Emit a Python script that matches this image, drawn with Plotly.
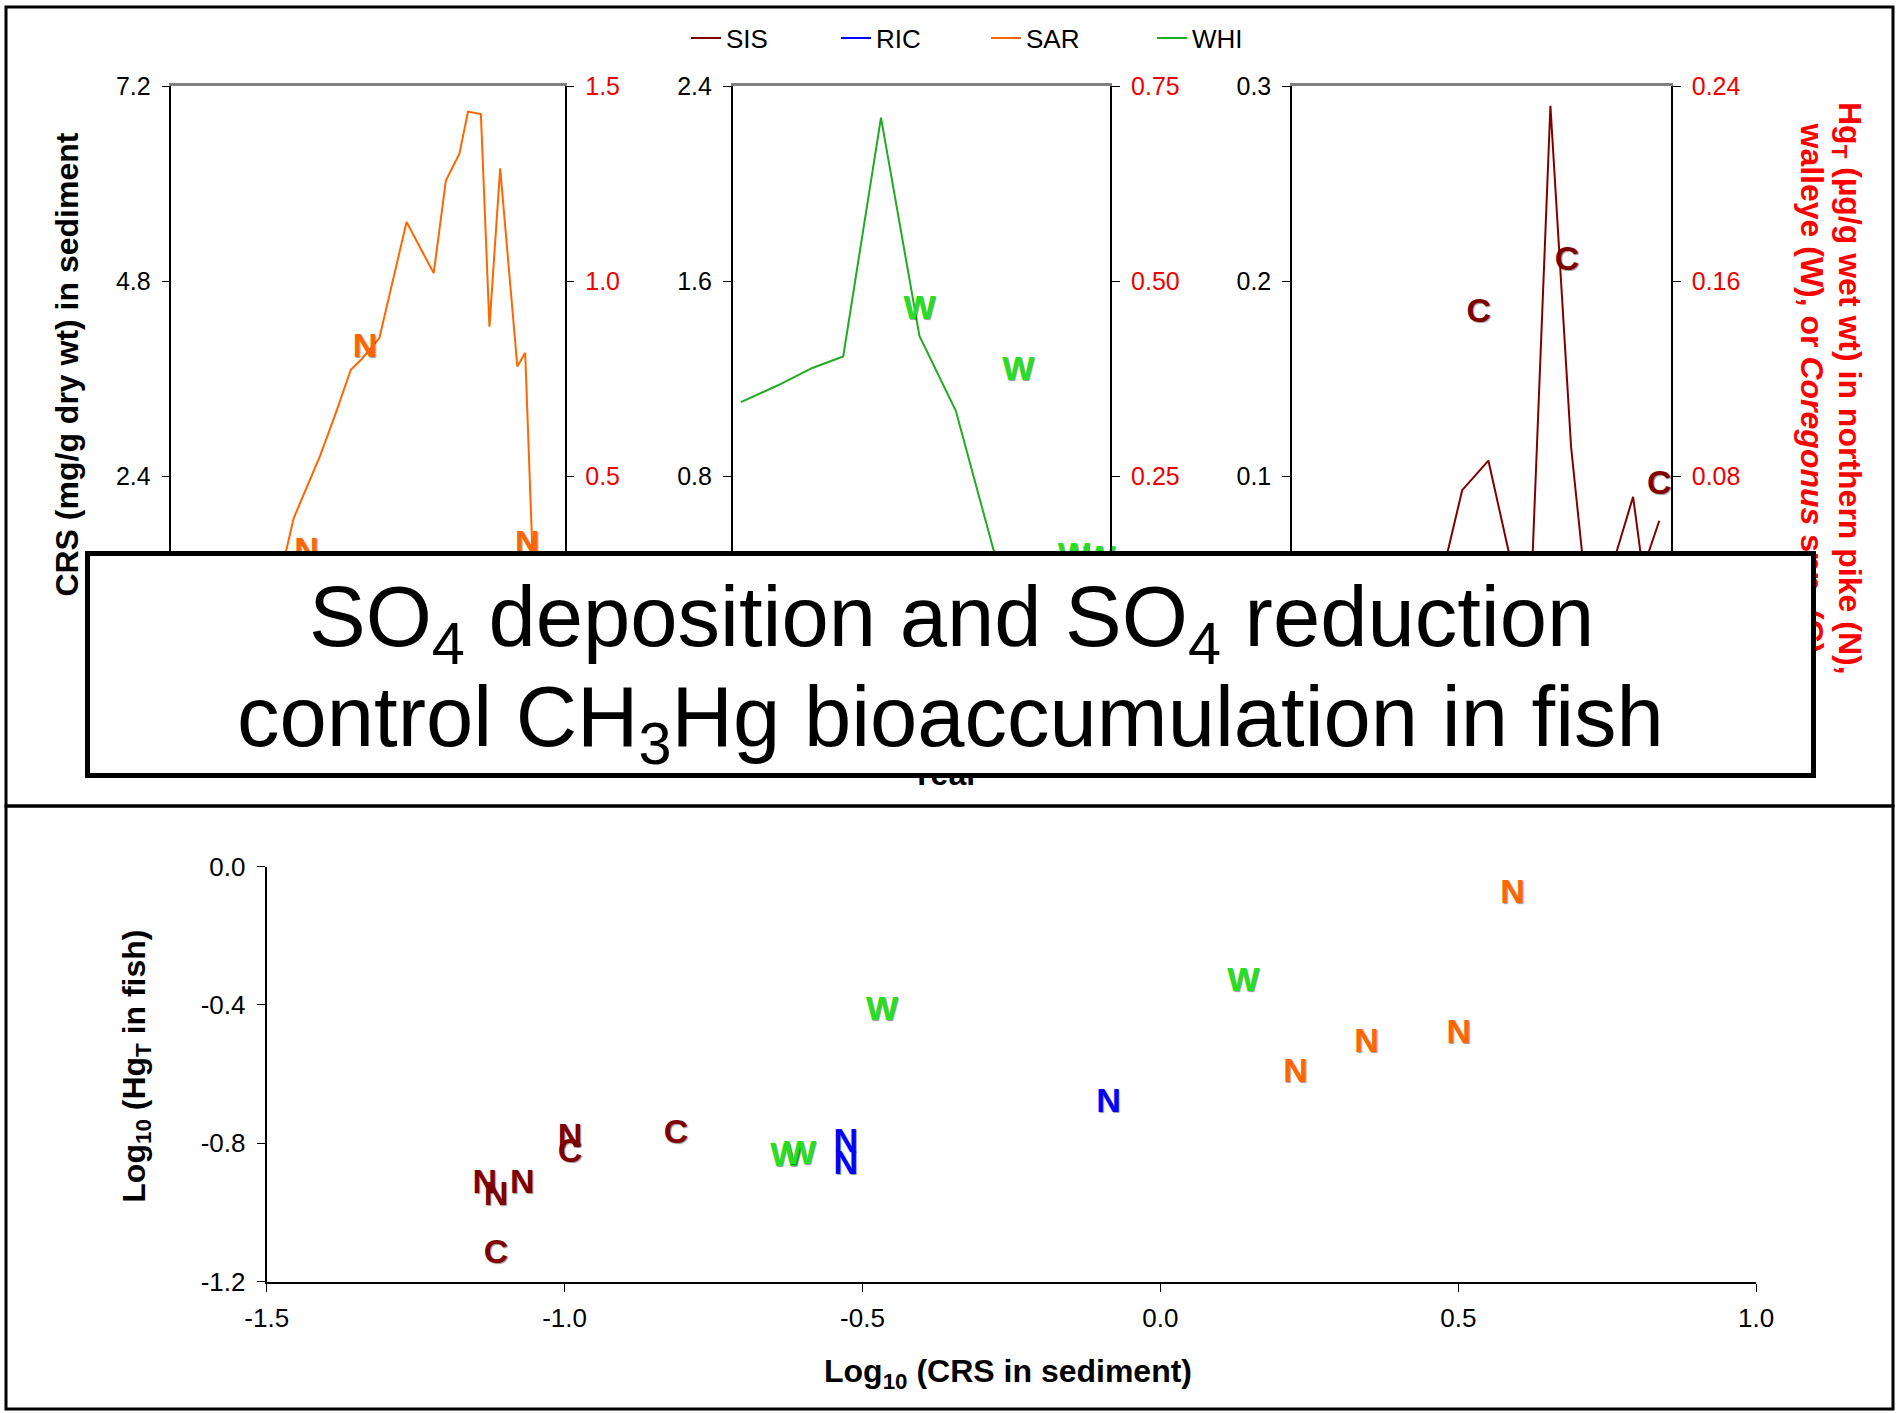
import plotly.graph_objects as go

W, H = 1900, 1413
FONT = "Liberation Sans, Arial, sans-serif"

# ---------------- data: sediment CRS profiles (mg/g dry wt) vs year ----------------
sar_years = [1950.5, 1954.0, 1961.0, 1964.8, 1967.1, 1970.8, 1973.1, 1975.1, 1976.6, 1979.1,
             1980.8, 1982.9, 1986.7, 1988.4, 1990.3, 1991.5, 1993.3, 1994.5, 1996.0, 1998.4,
             1999.5, 2000.5, 2001.6, 2003.7]
sar_crs = [0.25, 0.30, 0.50, 1.00, 1.88, 2.65, 3.20, 3.71, 3.84, 4.10,
           4.74, 5.53, 4.90, 6.04, 6.37, 6.89, 6.86, 4.24, 6.19, 3.75,
           3.92, 1.49, 0.90, 0.70]

whi_years = [1951.2, 1956.6, 1961.6, 1966.1, 1971.6, 1977.2, 1982.5, 1988.0, 1994.0, 2001.0]
whi_crs = [1.104, 1.173, 1.244, 1.291, 2.272, 1.376, 1.068, 0.496, 0.35, 0.30]

sis_years = [1951.2, 1962.8, 1971.5, 1974.7, 1978.5, 1983.1, 1984.7, 1987.5, 1990.5, 1992.7,
             1995.3, 1999.5, 2000.9, 2003.3]
sis_crs = [0.030, 0.040, 0.045, 0.0928, 0.108, 0.035, 0.040, 0.290, 0.115, 0.040,
           0.040, 0.0894, 0.052, 0.0771]

# ---------------- fish HgT (ug/g wet wt) vs year ----------------
sar_fish_years = [1968.9, 1977.1, 1999.8, 1989.0]
sar_fish_hg = [0.305, 0.828, 0.323, 0.252]
whi_fish_years = [1977.2, 1991.6, 1999.7, 2003.4]
whi_fish_hg = [0.462, 0.384, 0.145, 0.142]
sis_fish_years = [1977.1, 1989.9, 2003.3]
sis_fish_hg = [0.1467, 0.168, 0.0763]

# ---------------- bottom panel: log10 CRS vs log10 HgT ----------------
sis_n_logcrs = [-0.991, -1.134, -1.115, -1.071]
sis_n_loghg = [-0.785, -0.920, -0.955, -0.920]
sis_c_logcrs = [-0.813, -0.991, -1.115]
sis_c_loghg = [-0.774, -0.830, -1.121]
ric_n_logcrs = [-0.528, -0.528, -0.087]
ric_n_loghg = [-0.802, -0.864, -0.686]
sar_n_logcrs = [0.591, 0.346, 0.501, 0.227]
sar_n_loghg = [-0.081, -0.511, -0.486, -0.599]
whi_w_logcrs = [0.139, -0.467, -0.628, -0.605]
whi_w_loghg = [-0.336, -0.418, -0.840, -0.836]

# tick values / labels
p1_left_ticks, p1_right_ticks = [2.4, 4.8, 7.2], [0.5, 1.0, 1.5]
p2_left_ticks, p2_right_ticks = [0.8, 1.6, 2.4], [0.25, 0.50, 0.75]
p3_left_ticks, p3_right_ticks = [0.1, 0.2, 0.3], [0.08, 0.16, 0.24]
scatter_xticks = [-1.5, -1.0, -0.5, 0.0, 0.5, 1.0]
scatter_xticktext = ["-1.5", "-1.0", "-0.5", "0.0", "0.5", "1.0"]
scatter_yticks = [-1.2, -0.8, -0.4, 0.0]
scatter_yticktext = ["-1.2", "-0.8", "-0.4", "0.0"]

# colours
C_SIS = "#800000"
C_RIC = "#0000FF"
C_SAR = "#FF6600"
C_WHI = "#22AA22"
C_WHI_TXT = "#22E022"
RED = "#EE0000"


def px(x):
    return x / W


def py(y):
    return 1 - y / H


TOP_DOM = [py(671), py(86.4)]
P1 = [px(171.4), px(564.5)]
P2 = [px(732.7), px(1110.3)]
P3 = [px(1292), px(1671)]
PS_X = [px(266.7), px(1756.2)]
PS_Y = [py(1281.6), py(866.5)]

fig = go.Figure()

# legend line traces (order SIS, RIC, SAR, WHI)
fig.add_trace(go.Scatter(x=sis_years, y=sis_crs, mode="lines", name="SIS",
                         line=dict(color=C_SIS, width=2), xaxis="x3", yaxis="y5"))
fig.add_trace(go.Scatter(x=[None], y=[None], mode="lines", name="RIC",
                         line=dict(color=C_RIC, width=2), xaxis="x3", yaxis="y5"))
fig.add_trace(go.Scatter(x=sar_years, y=sar_crs, mode="lines", name="SAR", legendwidth=121,
                         line=dict(color=C_SAR, width=2), xaxis="x", yaxis="y"))
fig.add_trace(go.Scatter(x=whi_years, y=whi_crs, mode="lines", name="WHI",
                         line=dict(color=C_WHI, width=2), xaxis="x2", yaxis="y3"))


def letters(x, y, letter, color, xa, ya):
    return go.Scatter(x=x, y=y, mode="text", text=[letter] * len(x), showlegend=False,
                      textposition="middle center", cliponaxis=False,
                      textfont=dict(family=FONT, size=34, color=color, weight="bold",
                                    shadow="1px 1px 1px rgba(0,0,0,0.4)"),
                      xaxis=xa, yaxis=ya)


fig.add_trace(letters(sar_fish_years, sar_fish_hg, "N", C_SAR, "x", "y2"))
fig.add_trace(letters(whi_fish_years, whi_fish_hg, "W", C_WHI_TXT, "x2", "y4"))
fig.add_trace(letters(sis_fish_years, sis_fish_hg, "C", C_SIS, "x3", "y6"))

fig.add_trace(letters(sis_n_logcrs, sis_n_loghg, "N", C_SIS, "x4", "y7"))
fig.add_trace(letters(sis_c_logcrs, sis_c_loghg, "C", C_SIS, "x4", "y7"))
fig.add_trace(letters(ric_n_logcrs, ric_n_loghg, "N", C_RIC, "x4", "y7"))
fig.add_trace(letters(sar_n_logcrs, sar_n_loghg, "N", C_SAR, "x4", "y7"))
fig.add_trace(letters(whi_w_logcrs, whi_w_loghg, "W", C_WHI_TXT, "x4", "y7"))

tickfont = dict(family=FONT, size=25, color="black")
redfont = dict(family=FONT, size=25, color=RED)


def xtop(dom, anchor):
    # year axis; its labels sit behind the overlay box in the original, so none are drawn
    return dict(domain=dom, anchor=anchor, range=[1950, 2005], showline=True, mirror=True,
                linecolor="#808080", linewidth=2.5, showgrid=False, zeroline=False,
                ticks="", showticklabels=False, automargin=False)


def yleft(rng, vals, anchor):
    return dict(domain=TOP_DOM, anchor=anchor, range=rng, tickvals=vals, tickformat=".1f",
                showline=True, linecolor="black", linewidth=1.5, ticks="outside", ticklen=8,
                tickcolor="black", showgrid=False, zeroline=False, tickfont=tickfont,
                ticklabelstandoff=6, automargin=False)


def yright(rng, vals, fmt, over, anchor):
    return dict(overlaying=over, side="right", anchor=anchor, range=rng, tickvals=vals,
                tickformat=fmt, showline=True, linecolor="black", linewidth=1.5,
                ticks="outside", ticklen=8, tickcolor="black", showgrid=False,
                zeroline=False, tickfont=redfont, ticklabelstandoff=6, automargin=False)


def note(text, x, y, size, color="black", angle=0, **kw):
    d = dict(text=text, x=px(x), y=py(y), xref="paper", yref="paper", showarrow=False,
             xanchor="center", yanchor="middle", textangle=angle,
             font=dict(family=FONT, size=size, color=color))
    d.update(kw)
    return d


ann = [
    note("<b>CRS (mg/g dry wt) in sediment</b>", 66.6, 365, 32, angle=-90),
    note("<b>Hg<sub>T</sub> (µg/g wet wt) in northern pike (N),</b>", 1848, 388, 32,
         color="#FF0000", angle=90),
    note("<b>walleye (W), or <i>Coregonus</i> spp. (C)</b>", 1811.5, 388, 32,
         color="#FF0000", angle=90),
    note("<b>Year</b>", 945, 774, 32),
    # overlay box
    note(" ", 950.5, 664.5, 20, width=1721, height=217, bgcolor="white",
         bordercolor="black", borderwidth=5, borderpad=0),
    note("SO<sub>4</sub> deposition and SO<sub>4</sub> reduction", 951, 623, 85),
    note("control CH<sub>3</sub>Hg bioaccumulation in fish", 950, 723, 85),
    # bottom titles
    note("<b>Log<sub>10</sub> (CRS in sediment)</b>", 1008, 1373, 32),
    note("<b>Log<sub>10</sub> (Hg<sub>T</sub> in fish)</b>", 135.7, 1066, 32, angle=-90),
]

shapes = [
    dict(type="rect", xref="paper", yref="paper", x0=px(6), x1=px(1893), y0=py(7), y1=py(806),
         line=dict(color="black", width=3)),
    dict(type="rect", xref="paper", yref="paper", x0=px(6), x1=px(1893), y0=py(806), y1=py(1409),
         line=dict(color="black", width=3)),
]

fig.update_layout(
    width=W, height=H, margin=dict(l=0, r=0, t=0, b=0, pad=0), autosize=False,
    paper_bgcolor="white", plot_bgcolor="rgba(0,0,0,0)",
    font=dict(family=FONT, color="black"),
    xaxis=xtop(P1, "y"), xaxis2=xtop(P2, "y3"), xaxis3=xtop(P3, "y5"),
    yaxis=yleft([0, 7.2], p1_left_ticks, "x"),
    yaxis2=yright([0, 1.5], p1_right_ticks, ".1f", "y", "x"),
    yaxis3=yleft([0, 2.4], p2_left_ticks, "x2"),
    yaxis4=yright([0, 0.75], p2_right_ticks, ".2f", "y3", "x2"),
    yaxis5=yleft([0, 0.3], p3_left_ticks, "x3"),
    yaxis6=yright([0, 0.24], p3_right_ticks, ".2f", "y5", "x3"),
    xaxis4=dict(domain=PS_X, anchor="y7", range=[-1.5, 1.0], tickvals=scatter_xticks,
                ticktext=scatter_xticktext, showline=True, linecolor="black", linewidth=2,
                ticks="outside", ticklen=8, tickcolor="black", showgrid=False, zeroline=False,
                tickfont=dict(family=FONT, size=26, color="black"), ticklabelstandoff=4,
                automargin=False),
    yaxis7=dict(domain=PS_Y, anchor="x4", range=[-1.2, 0.0], tickvals=scatter_yticks,
                ticktext=scatter_yticktext, showline=True, linecolor="black", linewidth=2,
                ticks="outside", ticklen=8, tickcolor="black", showgrid=False, zeroline=False,
                tickfont=dict(family=FONT, size=26, color="black"), ticklabelstandoff=6,
                automargin=False),
    legend=dict(orientation="h", x=px(686), y=py(38), xanchor="left", yanchor="middle",
                font=dict(family=FONT, size=26, color="black"), entrywidth=105,
                bgcolor="rgba(0,0,0,0)"),
    annotations=ann, shapes=shapes,
)

fig.write_html("out.html")
